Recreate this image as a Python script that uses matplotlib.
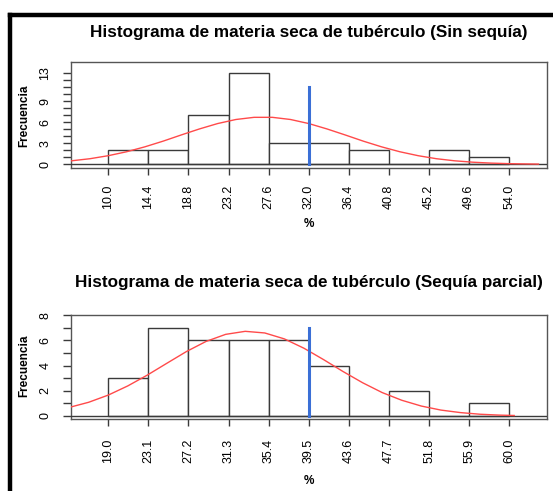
import numpy as np
import matplotlib
matplotlib.use("Agg")
import matplotlib.pyplot as plt
from matplotlib.lines import Line2D

plt.rcParams['font.family'] = ['Liberation Sans', 'DejaVu Sans']

# Sin sequía: bins, counts, median marker and fitted normal curve
edges_sin = [10.0, 14.4, 18.8, 23.2, 27.6, 32.0, 36.4, 40.8, 45.2, 49.6, 54.0]
counts_sin = [2, 2, 7, 13, 3, 3, 2, 0, 2, 1]
marker_sin_x = 32.0
marker_sin_h = 11
curve_sin_x = [5.9, 8, 10, 12, 14, 16, 18, 20, 22, 24, 26, 28, 30, 32, 34, 36,
               38, 40, 42, 44, 46, 48, 50, 52, 54, 56, 57.2]
curve_sin_y = [0.49, 0.80, 1.23, 1.79, 2.49, 3.30, 4.19, 5.05, 5.82, 6.40, 6.71,
               6.71, 6.40, 5.82, 5.05, 4.19, 3.30, 2.49, 1.79, 1.23, 0.80, 0.50,
               0.30, 0.17, 0.09, 0.05, 0.03]
yticks_sin = list(range(0, 14))
ylabels_sin = ['0', '', '', '3', '', '', '6', '', '', '9', '', '', '', '13']

# Sequía parcial
edges_par = [19.0, 23.1, 27.2, 31.3, 35.4, 39.5, 43.6, 47.7, 51.8, 55.9, 60.0]
counts_par = [3, 7, 6, 6, 6, 4, 0, 2, 0, 1]
marker_par_x = 39.5
marker_par_h = 7
curve_par_x = [15.2, 17, 19, 21, 23, 25, 27, 29, 31, 33, 35, 37, 39, 41, 43, 45,
               47, 49, 51, 53, 55, 57, 59, 60.5]
curve_par_y = [0.72, 1.09, 1.66, 2.39, 3.25, 4.19, 5.12, 5.92, 6.48, 6.72, 6.59,
               6.12, 5.38, 4.48, 3.53, 2.64, 1.86, 1.25, 0.79, 0.47, 0.27, 0.14,
               0.07, 0.04]
yticks_par = list(range(0, 9))
ylabels_par = ['0', '', '2', '', '4', '', '6', '', '8']

titles = ["Histograma de materia seca de tubérculo (Sin sequía)",
          "Histograma de materia seca de tubérculo (Sequía parcial)"]

W, H = 553, 491
fig = plt.figure(figsize=(W / 100, H / 100), dpi=100)

line_col = '#3a3a3a'


def panel(rect, edges, counts, mx, mh, cx, cy, yt, yl, xlim, ylim, xpad):
    ax = fig.add_axes(rect)
    edges = np.array(edges)
    ax.bar(edges[:-1], counts, width=np.diff(edges), align='edge',
           facecolor='white', edgecolor=line_col, linewidth=1.0, zorder=2)
    ax.axhline(0, color=line_col, linewidth=1.0, zorder=3)
    ax.plot(cx, cy, color='#ff4a4a', linewidth=1.0, zorder=4)
    ax.plot([mx, mx], [0, mh], color='#3b6fd6', linewidth=2.2, zorder=5)
    ax.set_xlim(*xlim)
    ax.set_ylim(*ylim)
    ax.set_xticks(edges)
    ax.set_xticklabels([f"{e:.1f}" for e in edges], rotation=90)
    ax.set_yticks(yt)
    ax.set_yticklabels(yl, rotation=90, va='center')
    ax.tick_params(axis='x', length=5, width=1, color=line_col, pad=xpad,
                   labelsize=9)
    ax.tick_params(axis='y', length=6, width=1, color=line_col, pad=8,
                   labelsize=9)
    for s in ax.spines.values():
        s.set_color('#555555')
        s.set_linewidth(1.0)
    return ax


def frac_rect(left, top, right, bottom):
    return [left / W, 1 - bottom / H, (right - left) / W, (bottom - top) / H]


panel(frac_rect(71, 62.3, 547, 168.3), edges_sin, counts_sin, marker_sin_x,
      marker_sin_h, curve_sin_x, curve_sin_y, yticks_sin, ylabels_sin,
      (5.91, 58.14), (-0.571, 14.57), 7)
panel(frac_rect(71, 315, 547, 419.3), edges_par, counts_par, marker_par_x,
      marker_par_h, curve_par_x, curve_par_y, yticks_par, ylabels_par,
      (15.19, 63.85), (-0.262, 8.016), 9)

# titles, axis labels
for ty, t in zip([33, 283], titles):
    fig.text(309 / W, 1 - ty / H, t, ha='center', va='center',
             fontsize=12.3, fontweight='bold')
for py in [224, 481.5]:
    fig.text(309 / W, 1 - py / H, '%', ha='center', va='center',
             fontsize=8.5, fontweight='bold')
for ly in [116, 366]:
    fig.text(24.5 / W, 1 - ly / H, 'Frecuencia', ha='center', va='center',
             rotation=90, fontsize=8.5, fontweight='bold')

# black frame along the top and left edges
fig.add_artist(Line2D([9.5 / W, 9.5 / W], [0, 1 - 15 / H], color='black',
                      linewidth=3.2, transform=fig.transFigure,
                      solid_capstyle='projecting'))
fig.add_artist(Line2D([9.5 / W, 1], [1 - 15 / H, 1 - 15 / H], color='black',
                      linewidth=3.2, transform=fig.transFigure,
                      solid_capstyle='projecting'))

fig.savefig('out.png', dpi=100)
